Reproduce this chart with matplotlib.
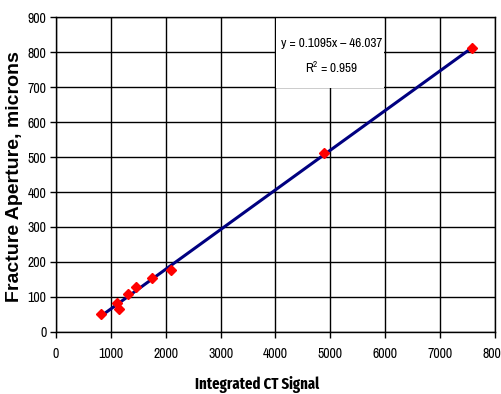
import numpy as np
import matplotlib
matplotlib.use("Agg")
import matplotlib.pyplot as plt
from matplotlib.patches import Rectangle

# data
ct_signal = [820, 1117, 1153, 1317, 1457, 1754, 2095, 4887, 7572]
aperture = [52, 81, 64, 107, 129, 153, 177, 511, 811]
xticks = [0, 1000, 2000, 3000, 4000, 5000, 6000, 7000, 8000]
yticks = [0, 100, 200, 300, 400, 500, 600, 700, 800, 900]
eq_text = "y = 0.1095x \u2013 46.037"
r2_text = "R$^2$ = 0.959"

narrow = ['Archivo Narrow', 'DejaVu Sans']
plt.rcParams['font.family'] = narrow
plt.rcParams['mathtext.fontset'] = 'custom'
plt.rcParams['mathtext.rm'] = 'Archivo Narrow'

fig = plt.figure(figsize=(5.01, 3.94), dpi=100)
ax = fig.add_axes([0.1118, 0.158, 0.8762, 0.798])

ax.set_xlim(0, 8000)
ax.set_ylim(0, 900)
ax.set_xticks(xticks)
ax.set_yticks(yticks)
ax.grid(True, color='black', linewidth=1.0, zorder=0.5)
ax.set_axisbelow(True)

# white box behind the equation text
ax.add_patch(Rectangle((4015, 697), 1970, 203, facecolor='white', edgecolor='none', zorder=1))

# linear trendline fitted to the points
k, b = np.polyfit(ct_signal, aperture, 1)
xs = np.array([min(ct_signal), max(ct_signal)])
ax.plot(xs, k * xs + b, color='#000080', linewidth=2.2, zorder=2)
ax.plot(ct_signal, aperture, linestyle='none', marker='D', markersize=5,
        color='red', zorder=3)

ax.text(5020, 826, eq_text, ha='center', va='center', fontsize=9.5, zorder=4)
ax.text(5020, 758, r2_text, ha='center', va='center', fontsize=9.5, zorder=4)

for s in ax.spines.values():
    s.set_color('black')
    s.set_linewidth(1.0)
ax.tick_params(axis='both', direction='out', length=4, width=1, color='black')
ax.tick_params(axis='x', labelsize=10, pad=7)
ax.tick_params(axis='y', labelsize=10, pad=3)

fig.text(15 / 501, 1 - 177 / 394, "Fracture Aperture, microns", rotation=90,
         ha='center', va='center', fontsize=14, fontweight='bold',
         family=['Liberation Sans', 'DejaVu Sans'])
fig.text(257 / 501, 1 - 376 / 394, "Integrated CT Signal", ha='center', va='top',
         fontsize=11.5, fontweight='bold',
         family=['Fira Sans Extra Condensed', 'DejaVu Sans'])

fig.savefig("out.png", dpi=100)
